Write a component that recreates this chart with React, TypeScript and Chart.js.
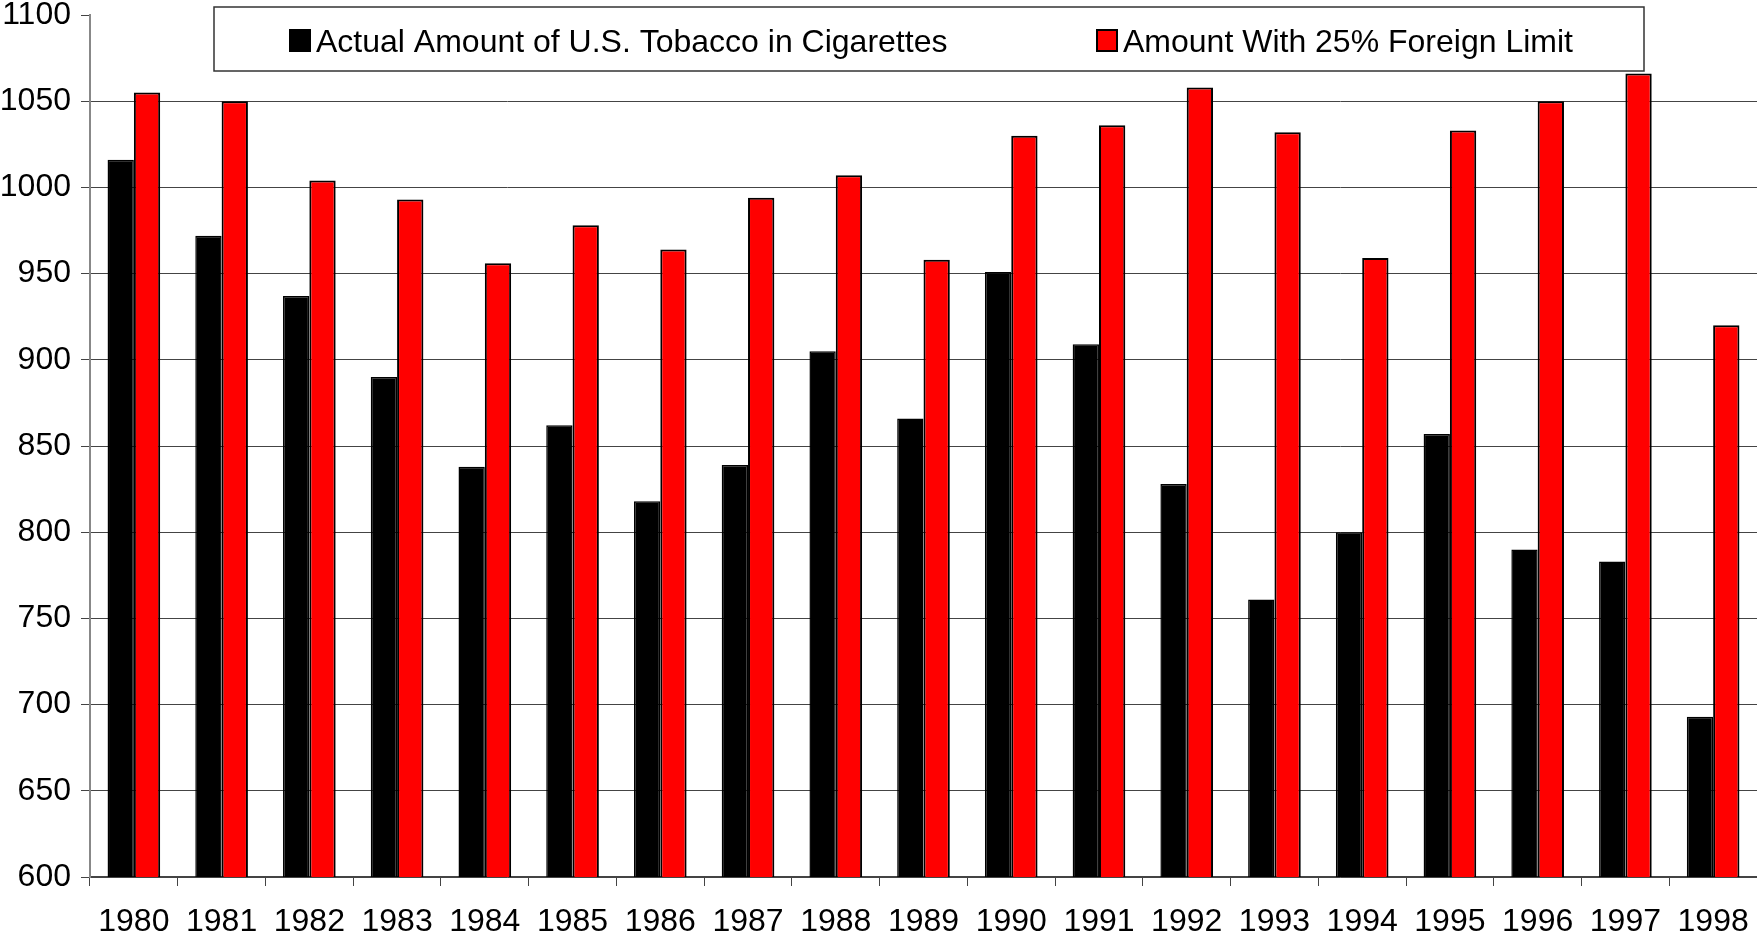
import React, { useEffect, useRef } from "react";
import { Chart, registerables } from "chart.js";

Chart.register(...registerables);

const years = ["1980","1981","1982","1983","1984","1985","1986","1987","1988","1989","1990","1991","1992","1993","1994","1995","1996","1997","1998"];
const actualAmount = [1016, 972, 937, 890, 838, 862, 818, 839, 905, 866, 951, 909, 828, 761, 800, 857, 790, 783, 693];
const limitAmount = [1055, 1050, 1004, 993, 956, 978, 964, 994, 1007, 958, 1030, 1036, 1058, 1032, 959, 1033, 1050, 1066, 920];
const seriesNames = ["Actual Amount of U.S. Tobacco in Cigarettes", "Amount With 25% Foreign Limit"];
const yMin = 600;
const yMax = 1100;
const yStep = 50;

const FONT = "Arial, 'Liberation Sans', sans-serif";

const boxLegend = {
  id: "boxLegend",
  afterDraw(chart: any) {
    const ctx = chart.ctx as CanvasRenderingContext2D;
    ctx.save();
    const bx = 214, by = 7, bw = 1430, bh = 64;
    ctx.fillStyle = "#ffffff";
    ctx.fillRect(bx, by, bw, bh);
    ctx.strokeStyle = "#333333";
    ctx.lineWidth = 1.5;
    ctx.strokeRect(bx, by, bw, bh);
    ctx.font = `32px ${FONT}`;
    ctx.textBaseline = "alphabetic";
    ctx.textAlign = "left";
    const items = [
      { x: 289, color: "#000000", text: seriesNames[0] },
      { x: 1096, color: "#ff0000", text: seriesNames[1] },
    ];
    for (const it of items) {
      ctx.fillStyle = it.color;
      ctx.fillRect(it.x, 29, 22, 23);
      ctx.strokeStyle = "#000000";
      ctx.lineWidth = 2;
      ctx.strokeRect(it.x + 1, 30, 20, 21);
      ctx.fillStyle = "#000000";
      ctx.fillText(it.text, it.x + 27, 52);
    }
    ctx.restore();
  },
};

export default function App() {
  const ref = useRef<HTMLCanvasElement | null>(null);
  useEffect(() => {
    if (!ref.current) return;
    Chart.defaults.font.family = FONT;
    Chart.defaults.font.size = 32;
    Chart.defaults.color = "#000000";
    const chart = new Chart(ref.current, {
      type: "bar",
      data: {
        labels: years,
        datasets: [
          {
            label: seriesNames[0],
            data: actualAmount,
            backgroundColor: "#000000",
            borderColor: "#000000",
            borderWidth: 1.5,
            categoryPercentage: 0.6,
            barPercentage: 1.0,
          },
          {
            label: seriesNames[1],
            data: limitAmount,
            backgroundColor: "#ff0000",
            borderColor: "#000000",
            borderWidth: 2,
            categoryPercentage: 0.6,
            barPercentage: 1.0,
          },
        ],
      },
      options: {
        animation: false,
        responsive: true,
        maintainAspectRatio: false,
        layout: { padding: { top: 15, right: 0, bottom: 0, left: 0 } },
        plugins: {
          legend: { display: false },
          title: { display: false },
          tooltip: { enabled: false },
        },
        scales: {
          x: {
            type: "category",
            grid: {
              offset: true,
              drawOnChartArea: false,
              drawTicks: true,
              tickLength: 9,
              color: "#444444",
              lineWidth: 1,
            },
            border: { display: true, color: "#444444", width: 1.5 },
            ticks: {
              padding: 17,
              maxRotation: 0,
              autoSkip: false,
              color: "#000000",
              font: { size: 32, family: FONT },
            },
            afterFit(scale: any) {
              scale.height = 58;
              scale.paddingLeft = 0;
              scale.paddingRight = 0;
            },
          },
          y: {
            min: yMin,
            max: yMax,
            grid: {
              color: (c: any) => (c.tick && c.tick.value === yMax ? "rgba(0,0,0,0)" : "#444444"),
              tickColor: "#444444",
              tickLength: 9,
              lineWidth: 1,
            },
            border: { display: true, color: "#888888", width: 2 },
            ticks: {
              stepSize: yStep,
              padding: 10,
              color: "#000000",
              font: { size: 32, family: FONT },
              callback: (v: any) => String(v),
            },
            afterFit(scale: any) {
              scale.width = 90;
              scale.paddingTop = 0;
              scale.paddingBottom = 0;
            },
          },
        },
      },
      plugins: [boxLegend],
    } as any);
    return () => chart.destroy();
  }, []);
  return (
    <div style={{ position: "fixed", left: 0, top: 0, width: 1757, height: 935, background: "#ffffff" }}>
      <canvas ref={ref} />
    </div>
  );
}
